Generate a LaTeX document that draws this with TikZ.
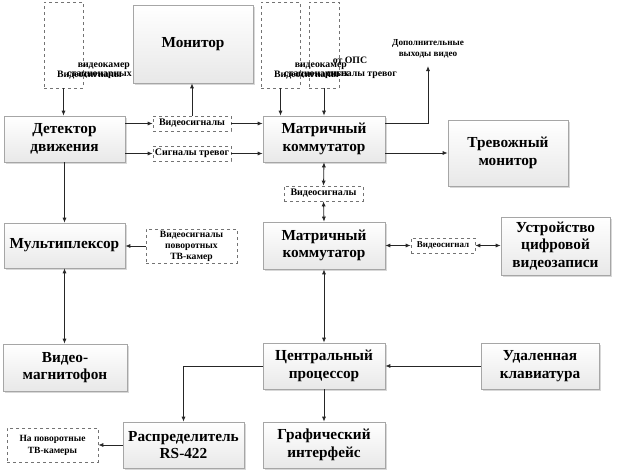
\documentclass[tikz,border=0pt]{standalone}
\usepackage{fontspec}
\setmainfont{Liberation Serif}
\usetikzlibrary{arrows.meta,shadows}
\begin{document}
\begin{tikzpicture}[x=1pt,y=-1pt,
  blk/.style={draw=black!35, line width=0.6pt, top color=white, bottom color=black!9,
    drop shadow={shadow xshift=1.5pt,shadow yshift=-1.5pt,fill=black!30},
    font=\bfseries\fontsize{15.3}{17.5}\selectfont, align=center, inner sep=0pt},
  dbox/.style={draw=black!55, dashed, fill=white, line width=0.6pt, inner sep=0pt,
    font=\bfseries\fontsize{10}{12}\selectfont, align=center},
  lbl/.style={font=\bfseries\fontsize{9.8}{10}\selectfont, inner sep=0pt},
  arr/.style={draw=black!85, line width=0.8pt, -{Latex[length=5pt,width=4pt]}},
  darr/.style={draw=black!85, line width=0.8pt, {Latex[length=5pt,width=4pt]}-{Latex[length=5pt,width=4pt]}}]
\useasboundingbox (0,0) rectangle (623,471);
% main blocks
\node[blk, minimum width=120pt, minimum height=78pt] (mon) at (193,44) {Монитор};
\node[blk, minimum width=121pt, minimum height=46pt] (det) at (64.5,139) {Детектор\\движения};
\node[blk, minimum width=122pt, minimum height=46pt] (mat1) at (324,139) {Матричный\\коммутатор};
\node[blk, minimum width=120pt, minimum height=66pt] (trev) at (508,153) {Тревожный\\монитор};
\node[blk, minimum width=122pt, minimum height=47pt] (mat2) at (324,245.5) {Матричный\\коммутатор};
\node[blk, minimum width=109pt, minimum height=58pt] (ustr) at (555.5,246) {Устройство\\цифровой\\видеозаписи};
\node[blk, minimum width=121pt, minimum height=45pt] (mux) at (64.5,245.5) {Мультиплексор};
\node[blk, minimum width=124pt, minimum height=47pt] (vmag) at (65,367.5) {Видео-\\магнитофон};
\node[blk, minimum width=122pt, minimum height=46pt] (cpu) at (324,366) {Центральный\\процессор};
\node[blk, minimum width=118pt, minimum height=46pt] (klav) at (540,366) {Удаленная\\клавиатура};
\node[blk, minimum width=121pt, minimum height=46pt] (rasp) at (183.5,445) {Распределитель\\RS-422};
\node[blk, minimum width=122pt, minimum height=46pt] (graf) at (324,445) {Графический\\интерфейс};
% dashed boxes
\node[dbox, minimum width=39pt, minimum height=86pt] (d1) at (63.5,45) {};
\node[dbox, minimum width=39pt, minimum height=86pt] (d2) at (280.5,45) {};
\node[dbox, minimum width=30pt, minimum height=86pt] (d3) at (324,45) {};
\node[dbox, minimum width=78pt, minimum height=15pt] (vs1) at (192,123.5) {Видеосигналы};
\node[dbox, minimum width=78pt, minimum height=15pt] (st) at (192,153.5) {Сигналы тревог};
\node[dbox, minimum width=79pt, minimum height=15pt] (vs2) at (323.5,193.5) {Видеосигналы};
\node[dbox, minimum width=64pt, minimum height=15pt, font=\bfseries\fontsize{9}{10}\selectfont] (vs3) at (443,245.5) {Видеосигнал};
\node[dbox, minimum width=91pt, minimum height=34pt, font=\bfseries\fontsize{9.6}{11}\selectfont] (povor) at (191.5,246) {Видеосигналы\\поворотных\\ТВ-камер};
\node[dbox, minimum width=91pt, minimum height=34pt, font=\bfseries\fontsize{9.5}{12}\selectfont] (napov) at (52.5,445) {На поворотные\\ТВ-камеры};
% overflowing texts of the top dashed boxes
\node[lbl, anchor=east] (t1a) at (130,66) {видеокамер};
\node[lbl, anchor=west] (t1b) at (57,75) {Видеосигналы};
\node[lbl, anchor=east] (t1c) at (132,75) {стационарных};
\node[lbl, anchor=east] (t2a) at (347,66) {видеокамер};
\node[lbl, anchor=west] (t2b) at (274,75) {Видеосигналы};
\node[lbl, anchor=east] (t2c) at (349,75) {стационарных};
\node[lbl] (t3a) at (350,60) {от ОПС};
\node[lbl, anchor=east] (t3b) at (397,75) {сигналы тревог};
\node[lbl, align=center, font=\bfseries\fontsize{9.2}{11}\selectfont] (dop) at (428,49) {Дополнительные\\выходы видео};
\coordinate (dopin) at (428,66);
% connectors
\draw[arr] (d1.south) -- (d1.south |- det.north);
\draw[arr] (d2.south) -- (d2.south |- mat1.north);
\draw[arr] (d3.south) -- (d3.south |- mat1.north);
\draw[arr] (vs1.west -| det.east) -- (vs1.west);
\draw[arr] (vs1.east) -- (vs1.east -| mat1.west);
\draw[arr] (st.west -| det.east) -- (st.west);
\draw[arr] (st.east) -- (st.east -| mat1.west);
\draw[arr] (vs1.north) -- (vs1.north |- mon.south);
\draw[arr] (vs1.east -| mat1.east) -| (dopin);
\draw[arr] (trev.west -| mat1.east) -- (trev.west);
\draw[darr] (mat1.south) -- (vs2.north);
\draw[darr] (vs2.south) -- (mat2.north);
\draw[darr] (mat2.east) -- (vs3.west);
\draw[darr] (vs3.east) -- (ustr.west |- vs3.east);
\draw[arr] (det.south) -- (mux.north);
\draw[arr] (povor.west) -- (povor.west -| mux.east);
\draw[darr] (mux.south) -- (mux.south |- vmag.north);
\draw[darr] (mat2.south) -- (cpu.north);
\draw[arr] (klav.west) -- (cpu.east);
\draw[arr] (cpu.west) -| (rasp.north);
\draw[arr] (cpu.south) -- (graf.north);
\draw[arr] (rasp.west) -- (napov.east);
\end{tikzpicture}
\end{document}
